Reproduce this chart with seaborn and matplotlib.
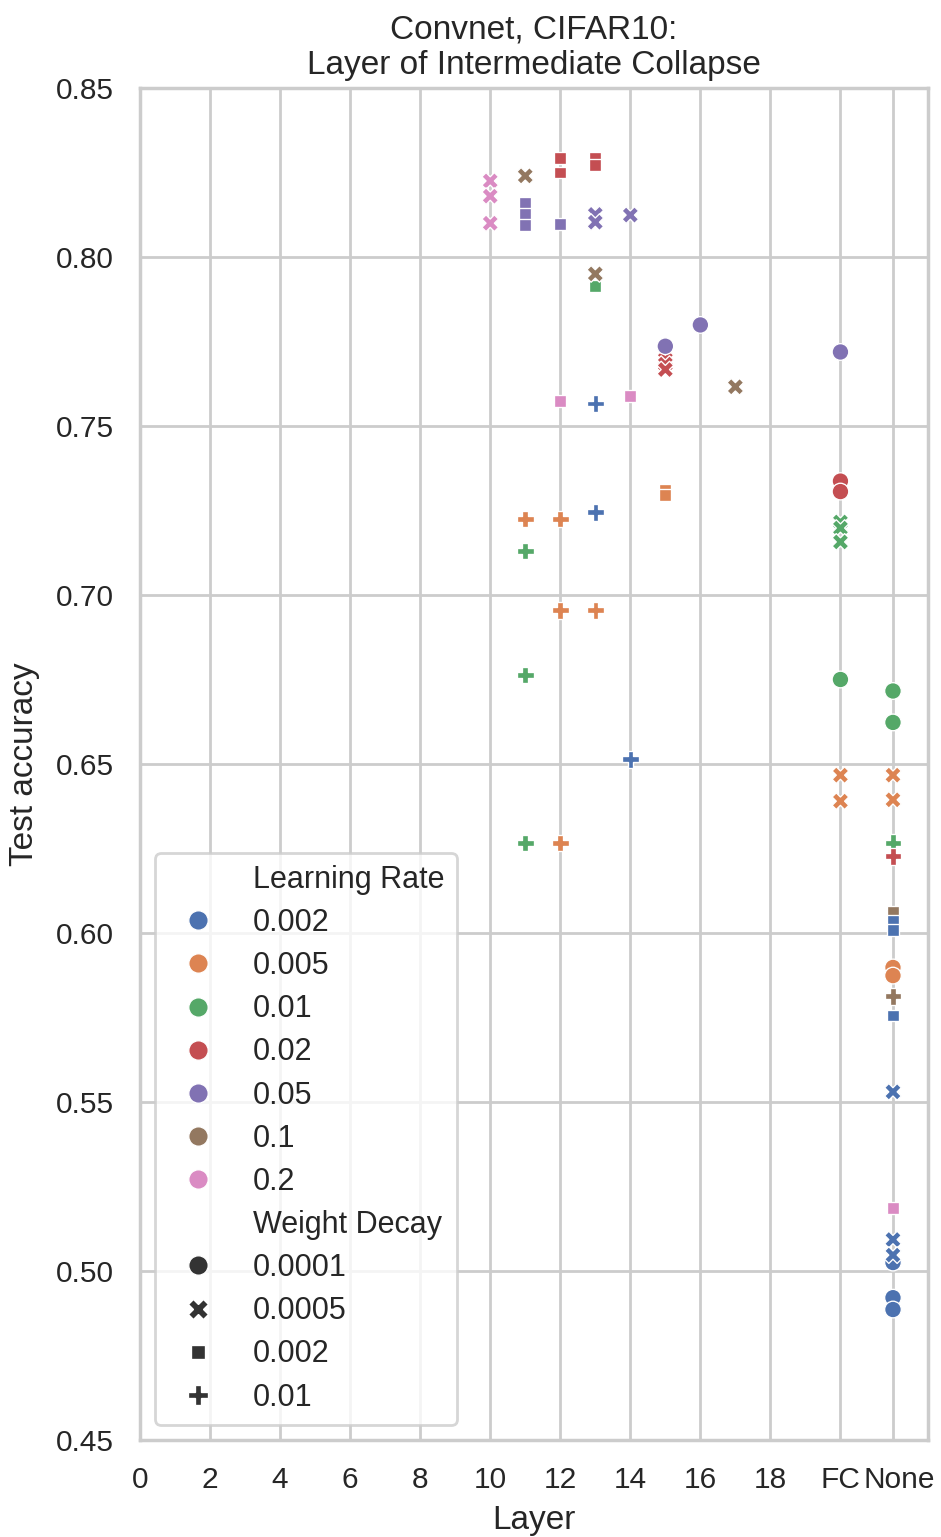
import matplotlib
matplotlib.use("Agg")
import matplotlib.pyplot as plt
import matplotlib.transforms as mtransforms
from matplotlib.lines import Line2D
from matplotlib.collections import PathCollection
import seaborn as sns
import pandas as pd

# Layer at which intermediate collapse occurs, per training run
layers = [
    "10", "10", "10",
    "11", "11", "11", "11", "11", "11", "11", "11",
    "12", "12", "12", "12", "12", "12", "12",
    "13", "13", "13", "13", "13", "13", "13", "13", "13",
    "14", "14", "14",
    "15", "15", "15", "15", "15", "15",
    "16", "17",
    "FC", "FC", "FC", "FC", "FC", "FC", "FC", "FC", "FC",
    "None", "None", "None", "None", "None", "None", "None", "None", "None",
    "None", "None", "None", "None", "None", "None", "None", "None", "None",
    "None", "None",
]
test_acc = [
    0.8225, 0.8180, 0.8100,
    0.8240, 0.8160, 0.8128, 0.8095, 0.7225, 0.7130, 0.6763, 0.6266,
    0.8292, 0.8250, 0.8097, 0.7574, 0.7225, 0.6955, 0.6266,
    0.8292, 0.8272, 0.8126, 0.8103, 0.7915, 0.7950, 0.7567, 0.7245, 0.6955,
    0.8124, 0.7588, 0.6514,
    0.7697, 0.7683, 0.7667, 0.7736, 0.7310, 0.7296,
    0.7799, 0.7616,
    0.7719, 0.7337, 0.7306, 0.7216, 0.7198, 0.7157, 0.6750, 0.6467, 0.6390,
    0.6716, 0.6623, 0.6467, 0.6394, 0.6267, 0.6227, 0.6063, 0.6035, 0.6010,
    0.5898, 0.5874, 0.5813, 0.5756, 0.5530, 0.5186, 0.5025, 0.5093, 0.5047,
    0.4921, 0.4886,
]
learning_rate = [
    "0.2", "0.2", "0.2",
    "0.1", "0.05", "0.05", "0.05", "0.005", "0.01", "0.01", "0.01",
    "0.02", "0.02", "0.05", "0.2", "0.005", "0.005", "0.005",
    "0.02", "0.02", "0.05", "0.05", "0.01", "0.1", "0.002", "0.002", "0.005",
    "0.05", "0.2", "0.002",
    "0.02", "0.02", "0.02", "0.05", "0.005", "0.005",
    "0.05", "0.1",
    "0.05", "0.02", "0.02", "0.01", "0.01", "0.01", "0.01", "0.005", "0.005",
    "0.01", "0.01", "0.005", "0.005", "0.01", "0.02", "0.1", "0.002", "0.002",
    "0.005", "0.005", "0.1", "0.002", "0.002", "0.2", "0.002", "0.002", "0.002",
    "0.002", "0.002",
]
weight_decay = [
    "0.0005", "0.0005", "0.0005",
    "0.0005", "0.002", "0.002", "0.002", "0.01", "0.01", "0.01", "0.01",
    "0.002", "0.002", "0.002", "0.002", "0.01", "0.01", "0.01",
    "0.002", "0.002", "0.0005", "0.0005", "0.002", "0.0005", "0.01", "0.01", "0.01",
    "0.0005", "0.002", "0.01",
    "0.0005", "0.0005", "0.0005", "0.0001", "0.002", "0.002",
    "0.0001", "0.0005",
    "0.0001", "0.0001", "0.0001", "0.0005", "0.0005", "0.0005", "0.0001", "0.0005", "0.0005",
    "0.0001", "0.0001", "0.0005", "0.0005", "0.01", "0.01", "0.002", "0.002", "0.002",
    "0.0001", "0.0001", "0.01", "0.002", "0.0005", "0.002", "0.0001", "0.0005", "0.0005",
    "0.0001", "0.0001",
]

lr_order = ["0.002", "0.005", "0.01", "0.02", "0.05", "0.1", "0.2"]
wd_order = ["0.0001", "0.0005", "0.002", "0.01"]

# Numeric layers sit at their index; the two special cases go past layer 18
tick_values = list(range(0, 20, 2))
special_layers = {"FC": 20.0, "None": 21.5}

df = pd.DataFrame({
    "Layer": [special_layers[l] if l in special_layers else float(l) for l in layers],
    "Test accuracy": test_acc,
    "Learning Rate": learning_rate,
    "Weight Decay": weight_decay,
})

sns.set_theme(context="poster", style="whitegrid")
plt.rcParams["font.family"] = ["Liberation Sans", "DejaVu Sans"]

fig = plt.figure(figsize=(9.41, 15.37), dpi=100)
ax = fig.add_axes([140 / 941, 1 - 1440 / 1537, 788 / 941, 1352 / 1537])

sns.scatterplot(
    data=df, x="Layer", y="Test accuracy",
    hue="Learning Rate", hue_order=lr_order,
    style="Weight Decay", style_order=wd_order,
    palette="deep", ax=ax,
)

ax.set_xlim(0, 22.5)
ax.set_ylim(0.45, 0.85)
xt = tick_values + [special_layers["FC"], special_layers["None"]]
ax.set_xticks(xt)
ax.set_xticklabels([str(v) for v in tick_values] + ["FC", "None"], fontsize=21.5)
ax.set_yticks([0.45 + 0.05 * i for i in range(9)])
ax.set_yticklabels([f"{0.45 + 0.05 * i:.2f}" for i in range(9)], fontsize=21.5)
ax.tick_params(axis="both", pad=7)

# nudge the last label right so it does not run into "FC"
last = ax.get_xticklabels()[-1]
last.set_transform(last.get_transform() + mtransforms.ScaledTranslation(6 / 100, 0, fig.dpi_scale_trans))

ax.set_xlabel("Layer", fontsize=24, labelpad=8)
ax.set_ylabel("Test accuracy", fontsize=24, labelpad=11)
ax.set_title("Convnet, CIFAR10:\nLayer of Intermediate Collapse", fontsize=24, pad=10)

leg = ax.legend(loc="lower left", fontsize=22, labelspacing=0.43)
for h in leg.legend_handles:
    if isinstance(h, Line2D):
        h.set_markersize(14)
    elif isinstance(h, PathCollection):
        h.set_sizes([14 ** 2])

fig.savefig("out.png", dpi=100)
